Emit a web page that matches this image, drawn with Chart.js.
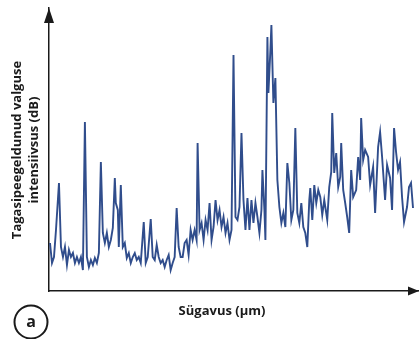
<!DOCTYPE html>
<html>
<head>
<meta charset="utf-8">
<script src="https://cdn.jsdelivr.net/npm/chart.js@4"></script>
<style>
  html, body { margin: 0; padding: 0; background: #fff; }
  #wrap { width: 419px; height: 339px; }
</style>
</head>
<body>
<div id="wrap"><canvas id="chart" width="419" height="339"></canvas></div>
<script>
'use strict';

// (no tick labels, so arbitrary units)
let depth = [1, 3, 5, 7, 10, 12, 14, 16, 18, 20, 22, 24, 26, 28, 30, 32, 34, 36, 38, 40,
  42, 44, 46, 48, 50, 52, 54, 56, 58, 60, 62, 64, 66, 67, 69, 70, 72, 74, 76, 78,
  80, 82, 84, 86, 88, 90, 92, 95, 97, 99, 102, 104, 106, 108, 110, 112, 114, 116, 118, 120,
  122, 124, 126, 128, 130, 132, 134, 136, 138, 140, 142, 144, 146, 148, 149, 151, 153, 155, 157, 159,
  161, 163, 165, 167, 169, 171, 173, 175, 177, 179, 181, 183, 185, 187, 189, 191, 193, 195, 197, 199,
  201, 203, 205, 207, 209, 211, 213, 214, 216, 217, 219, 220, 222, 223, 225, 227, 229, 231, 233, 235,
  237, 239, 241, 243, 245, 247, 249, 251, 253, 255, 257, 259, 261, 262, 264, 266, 268, 270, 272, 274,
  276, 279, 281, 283, 284, 286, 288, 290, 292, 293, 295, 297, 299, 301, 303, 305, 308, 310, 312, 313,
  315, 317, 320, 322, 325, 327, 330, 332, 334, 337, 339, 342, 344, 346, 348, 350, 352, 354, 356, 359,
  361, 363, 365];

let intensity = [48, 28, 34, 61, 108, 44, 34, 44, 26, 41, 34, 38, 28, 34, 28, 34, 21, 169, 34, 24,
  31, 26, 33, 28, 38, 129, 58, 48, 58, 44, 51, 63, 113, 88, 81, 44, 106, 44, 48, 33,
  38, 28, 34, 38, 31, 34, 28, 69, 28, 34, 72, 34, 31, 46, 34, 28, 31, 24, 31, 36,
  21, 28, 34, 83, 44, 34, 34, 48, 51, 36, 61, 51, 61, 51, 148, 61, 68, 51, 71, 61,
  88, 51, 64, 91, 71, 81, 64, 74, 58, 68, 51, 61, 236, 74, 71, 84, 158, 91, 61, 93,
  61, 91, 68, 88, 74, 58, 81, 121, 81, 51, 254, 198, 241, 266, 188, 213, 111, 84, 68, 78,
  64, 128, 108, 71, 81, 163, 78, 68, 88, 64, 58, 44, 91, 103, 71, 106, 88, 101, 94, 76,
  91, 71, 104, 119, 178, 118, 138, 104, 114, 148, 101, 88, 74, 58, 121, 94, 101, 134, 111, 173,
  131, 141, 134, 106, 124, 78, 144, 159, 134, 91, 126, 113, 81, 163, 139, 121, 129, 94, 69, 84,
  104, 108, 83];

let xTitle = 'Sügavus (µm)';
let yTitle = ['Tagasipeegeldunud valguse', 'intensiivsus (dB)'];
let panelLabel = 'a';

let points = [];
for (let i = 0; i < depth.length; i++) {
  points.push({ x: depth[i], y: intensity[i] });
}

// arrows, axis titles and the circled panel letter
let decor = {
  id: 'decor',
  afterDraw(chart) {
    let ctx = chart.ctx;
    let a = chart.chartArea;
    ctx.save();
    ctx.fillStyle = '#1a1a1a';
    ctx.strokeStyle = '#1a1a1a';

    // y arrow
    ctx.beginPath();
    ctx.moveTo(a.left, a.top);
    ctx.lineTo(a.left - 5, a.top + 15);
    ctx.lineTo(a.left + 5, a.top + 15);
    ctx.closePath();
    ctx.fill();

    // x arrow
    ctx.beginPath();
    ctx.moveTo(a.right, a.bottom);
    ctx.lineTo(a.right - 11, a.bottom - 4.5);
    ctx.lineTo(a.right - 11, a.bottom + 4.5);
    ctx.closePath();
    ctx.fill();

    ctx.font = 'bold 13px "Open Sans"';
    ctx.textAlign = 'center';
    ctx.textBaseline = 'alphabetic';
    ctx.fillText(xTitle, 222, 315);

    ctx.save();
    ctx.translate(0, 150);
    ctx.rotate(-Math.PI / 2);
    ctx.fillText(yTitle[0], 0, 21);
    ctx.fillText(yTitle[1], 0, 38);
    ctx.restore();

    ctx.lineWidth = 2;
    ctx.beginPath();
    ctx.arc(31, 322, 16.5, 0, Math.PI * 2);
    ctx.stroke();
    ctx.font = 'bold 16px "Open Sans"';
    ctx.textBaseline = 'middle';
    ctx.fillText(panelLabel, 31, 322);
    ctx.restore();
  }
};

let chartObj = {
  type: 'line',
  data: {
    datasets: [{
      data: points,
      borderColor: '#304d8c',
      borderWidth: 1.9,
      pointRadius: 0,
      tension: 0,
      fill: false
    }]
  },
  options: {
    responsive: false,
    animation: false,
    layout: {
      padding: { left: 41, top: 8, right: 0, bottom: 40 }
    },
    plugins: {
      legend: { display: false },
      tooltip: { enabled: false }
    },
    scales: {
      x: {
        type: 'linear',
        min: 0,
        max: 371,
        grid: { display: false },
        ticks: { display: false },
        border: { display: true, color: '#1a1a1a', width: 1.5 }
      },
      y: {
        min: 0,
        max: 283,
        grid: { display: false },
        ticks: { display: false },
        border: { display: true, color: '#1a1a1a', width: 1.5 }
      }
    }
  },
  plugins: [decor]
};

new Chart(document.getElementById('chart'), chartObj);
</script>
</body>
</html>
